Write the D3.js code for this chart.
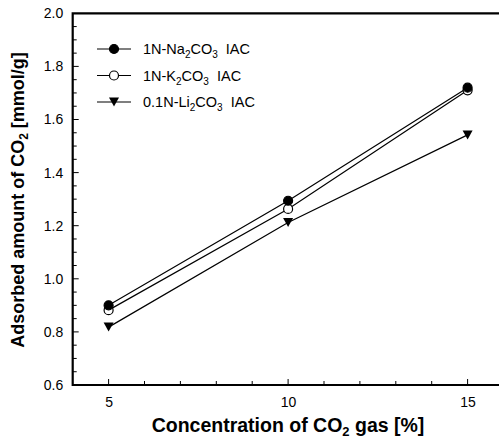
<!DOCTYPE html>
<html><head><meta charset="utf-8">
<script src="https://cdn.jsdelivr.net/npm/d3@7/dist/d3.min.js"></script>
<style>
  body { margin: 0; background: #fff; }
  svg { font-family: "Liberation Sans", Arial, sans-serif; }
  .tick text { font-size: 14px; }
</style>
</head><body>
<svg width="499" height="441"></svg>
<script>
// data
var concentrations = [5, 10, 15];
var naValues = [0.90, 1.294, 1.72];
var kValues  = [0.882, 1.263, 1.71];
var liValues = [0.818, 1.212, 1.542];
var seriesNames = ["1N-Na", "1N-K", "0.1N-Li"];
var xTicks = [5, 10, 15];
var yTicks = [0.6, 0.8, 1.0, 1.2, 1.4, 1.6, 1.8, 2.0];

var series = [
  {name: seriesNames[0], values: naValues, symbol: "filled"},
  {name: seriesNames[1], values: kValues,  symbol: "open"},
  {name: seriesNames[2], values: liValues, symbol: "tri"}
];

var svg = d3.select("svg");
var plotLeft = 72.7, plotTop = 13.3, plotBottom = 385, plotRight = 503.5;

var x = d3.scaleLinear().domain([4, 16]).range([plotLeft, plotRight]);
var y = d3.scaleLinear().domain([0.6, 2.0]).range([plotBottom, plotTop]);

// minor ticks (inward)
var g = svg.append("g");
g.selectAll(".xminor").data(d3.range(5, 16, 1)).enter().append("line")
  .attr("x1", function(d){ return x(d); }).attr("x2", function(d){ return x(d); })
  .attr("y1", plotBottom).attr("y2", function(d){ return d % 5 === 0 ? plotBottom - 6 : plotBottom - 4; })
  .attr("stroke", "#000").attr("stroke-width", 1);
g.selectAll(".yminor").data(d3.range(13, 40, 1)).enter().append("line")
  .attr("x1", plotLeft).attr("x2", function(d){ return d % 4 === 0 ? plotLeft + 6 : plotLeft + 4; })
  .attr("y1", function(d){ return y(d * 0.05); }).attr("y2", function(d){ return y(d * 0.05); })
  .attr("stroke", "#000").attr("stroke-width", 1);

// axes
var xAxis = d3.axisBottom(x).tickValues(xTicks).tickSize(0).tickPadding(12).tickFormat(d3.format("d"));
var yAxis = d3.axisLeft(y).tickValues(yTicks).tickSize(0).tickPadding(9.5).tickFormat(d3.format(".1f"));
svg.append("g").attr("transform", "translate(0," + plotBottom + ")").call(xAxis)
  .call(function(s){ s.select(".domain").remove(); })
  .selectAll("text").attr("fill", "#000");
svg.append("g").attr("transform", "translate(" + plotLeft + ",0)").call(yAxis)
  .call(function(s){ s.select(".domain").remove(); })
  .selectAll("text").attr("fill", "#000");

// frame
svg.append("path")
  .attr("d", "M" + plotRight + "," + plotTop + "H" + plotLeft + "V" + plotBottom + "H" + plotRight)
  .attr("fill", "none").attr("stroke", "#000").attr("stroke-width", 2.2);

// lines
var line = d3.line()
  .x(function(d, i){ return x(concentrations[i]); })
  .y(function(d){ return y(d); });

function drawMarker(sel, type) {
  if (type === "tri") {
    sel.append("path").attr("d", "M-5,-4.5L5,-4.5L0,4.5Z").attr("fill", "#000");
  } else {
    sel.append("circle").attr("r", 4.5)
      .attr("fill", type === "filled" ? "#000" : "#fff")
      .attr("stroke", "#000").attr("stroke-width", 1.2);
  }
}

series.forEach(function(s){
  svg.append("path").datum(s.values).attr("d", line)
    .attr("fill", "none").attr("stroke", "#000").attr("stroke-width", 1.2);
});
series.slice().reverse().forEach(function(s){
  s.values.forEach(function(v, i){
    var m = svg.append("g").attr("transform", "translate(" + x(concentrations[i]) + "," + y(v) + ")");
    drawMarker(m, s.symbol);
  });
});

// legend
var legendY = [49, 75.5, 102];
series.forEach(function(s, i){
  var lg = svg.append("g").attr("transform", "translate(0," + legendY[i] + ")");
  lg.append("line").attr("x1", 97).attr("x2", 131).attr("stroke", "#000").attr("stroke-width", 1.2);
  var m = lg.append("g").attr("transform", "translate(114,0)");
  drawMarker(m, s.symbol);
  var t = lg.append("text").attr("x", 143).attr("y", 5).attr("font-size", 14.5);
  t.append("tspan").text(s.name);
  t.append("tspan").text("2").attr("font-size", 10).attr("dy", 4);
  t.append("tspan").text("CO").attr("dy", -4);
  t.append("tspan").text("3").attr("font-size", 10).attr("dy", 4);
  t.append("tspan").text("\u00a0\u00a0IAC").attr("dy", -4);
});

// axis titles
var xt = svg.append("text").attr("x", 288).attr("y", 432).attr("text-anchor", "middle")
  .attr("font-size", 19.5).attr("font-weight", "bold");
xt.append("tspan").text("Concentration of CO");
xt.append("tspan").text("2").attr("font-size", 13).attr("dy", 4);
xt.append("tspan").text(" gas [%]").attr("dy", -4);

var yt = svg.append("text").attr("transform", "translate(24,200) rotate(-90)").attr("text-anchor", "middle")
  .attr("font-size", 18).attr("font-weight", "bold");
yt.append("tspan").text("Adsorbed amount of CO");
yt.append("tspan").text("2").attr("font-size", 12).attr("dy", 4);
yt.append("tspan").text(" [mmol/g]").attr("dy", -4);
</script>
</body></html>
